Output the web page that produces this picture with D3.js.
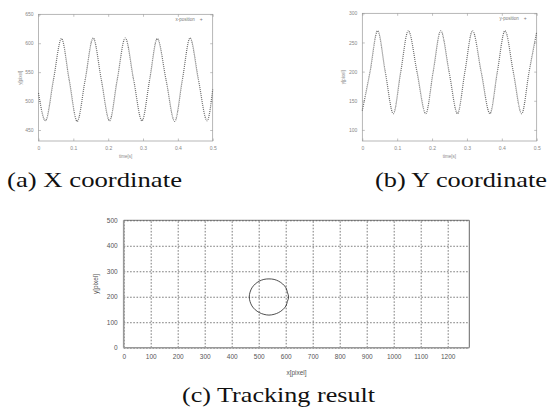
<!DOCTYPE html>
<html lang="en">
<head>
<meta charset="UTF-8">
<title>Tracking result</title>
<script src="https://d3js.org/d3.v7.min.js"></script>
<style>
  body { margin: 0; background: #fff; }
  svg { display: block; }
  text { font-family: "Liberation Sans", Arial, sans-serif; }
  text.caption { font-family: "Liberation Serif", "Times New Roman", serif; font-size: 21px; fill: #111; }
</style>
</head>
<body>
<svg id="chart" width="549" height="409"></svg>
<script>
// (a) x position over time, read at extrema and mid crossings
var timeX = [0, 0.020, 0.043, 0.066, 0.088, 0.111, 0.134, 0.157, 0.180, 0.204, 0.226, 0.249,
             0.273, 0.297, 0.319, 0.341, 0.366, 0.391, 0.413, 0.435, 0.459, 0.484, 0.5];
var xPosition = [514, 466, 537, 608, 537, 465, 537, 609, 538, 466, 537, 609,
                 537, 466, 537, 608, 537, 465, 537, 609, 537, 466, 520];

// (b) y position over time
var timeY = [0, 0.022, 0.044, 0.066, 0.089, 0.110, 0.132, 0.157, 0.182, 0.203, 0.225, 0.249,
             0.273, 0.294, 0.316, 0.341, 0.366, 0.387, 0.409, 0.433, 0.457, 0.478, 0.5];
var yPosition = [133, 199, 270, 199, 128, 199, 270, 199, 128, 199, 270, 199,
                 128, 199, 270, 199, 128, 199, 270, 199, 128, 199, 268];

// (c) tracked path in the image plane
var trackX = [611, 606, 601, 589, 574, 557, 538, 519, 502, 487, 475, 468, 465, 468, 475, 487, 502, 519, 538, 557, 574, 589, 601, 606];
var trackY = [199, 218, 235, 250, 261, 268, 270, 268, 261, 250, 235, 218, 199, 181, 164, 149, 138, 131, 128, 131, 138, 149, 164, 181];

var timeTicks = [0, 0.1, 0.2, 0.3, 0.4, 0.5];
var xPosTicks = [450, 500, 550, 600, 650];
var yPosTicks = [100, 150, 200, 250, 300];
var pixelXTicks = [0, 100, 200, 300, 400, 500, 600, 700, 800, 900, 1000, 1100, 1200];
var pixelYTicks = [0, 100, 200, 300, 400, 500];

var svg = d3.select("#chart");
svg.append("rect").attr("width", 549).attr("height", 409).attr("fill", "#fff");

function timePanel(opts) {
    var x = d3.scaleLinear().domain([0, 0.5]).range([opts.left, opts.right]);
    var y = d3.scaleLinear().domain(opts.yDomain).range([opts.bottom, opts.top]);
    var g = svg.append("g");

    function styleAxis(a) {
        a.select(".domain").remove();
        a.selectAll(".tick line").attr("stroke", "#999").attr("stroke-width", 0.6);
        a.selectAll(".tick text").attr("fill", "#888").style("font-size", "5px");
    }

    g.append("g").attr("transform", "translate(0," + opts.bottom + ")")
        .call(d3.axisBottom(x).tickValues(timeTicks).tickSize(-2.5).tickPadding(5).tickFormat(d3.format("")))
        .call(styleAxis);
    g.append("g").attr("transform", "translate(0," + opts.top + ")")
        .call(d3.axisTop(x).tickValues(timeTicks).tickSize(-2.5).tickFormat(""))
        .call(styleAxis);
    g.append("g").attr("transform", "translate(" + opts.left + ",0)")
        .call(d3.axisLeft(y).tickValues(opts.yTicks).tickSize(-2.5).tickPadding(5))
        .call(styleAxis);
    g.append("g").attr("transform", "translate(" + opts.right + ",0)")
        .call(d3.axisRight(y).tickValues(opts.yTicks).tickSize(-2.5).tickFormat(""))
        .call(styleAxis);

    g.append("rect")
        .attr("x", opts.left).attr("y", opts.top)
        .attr("width", opts.right - opts.left).attr("height", opts.bottom - opts.top)
        .attr("fill", "none").attr("stroke", "#999").attr("stroke-width", 0.7);

    var line = d3.line()
        .x(function(d) { return x(d[0]); })
        .y(function(d) { return y(d[1]); })
        .curve(d3.curveMonotoneX);

    var pts = opts.t.map(function(t, i) { return [t, opts.v[i]]; });
    g.append("path").datum(pts)
        .attr("fill", "none")
        .attr("stroke", "#6a6a6a")
        .attr("stroke-width", 1.2)
        .attr("stroke-dasharray", "1,1")
        .attr("d", line);

    g.append("text").attr("x", opts.right - 18).attr("y", opts.top + 6.5)
        .attr("text-anchor", "end").attr("fill", "#777").style("font-size", "4.5px")
        .text(opts.legend);
    g.append("text").attr("x", opts.right - 11.5).attr("y", opts.top + 6.5)
        .attr("text-anchor", "middle").attr("fill", "#777").style("font-size", "5px")
        .text("+");

    g.append("text").attr("x", (opts.left + opts.right) / 2).attr("y", opts.bottom + 17)
        .attr("text-anchor", "middle").attr("fill", "#888").style("font-size", "4.5px")
        .text("time[s]");
    g.append("text")
        .attr("transform", "translate(" + (opts.left - 17) + "," + ((opts.top + opts.bottom) / 2) + ") rotate(-90)")
        .attr("text-anchor", "middle").attr("fill", "#888").style("font-size", "4.5px")
        .text("y[pixel]");
}

timePanel({ left: 38.5, right: 212.7, top: 14.3, bottom: 141, yDomain: [431, 650],
            yTicks: xPosTicks, t: timeX, v: xPosition, legend: "x-position" });
timePanel({ left: 362.3, right: 536.7, top: 13.3, bottom: 141, yDomain: [81, 300],
            yTicks: yPosTicks, t: timeY, v: yPosition, legend: "y-position" });

// panel (c)
var cl = 123.7, cr = 469.3, ct = 220.3, cb = 347.7;
var px = d3.scaleLinear().domain([0, 1280]).range([cl, cr]);
var py = d3.scaleLinear().domain([0, 500]).range([cb, ct]);
var gc = svg.append("g");

function gridAxis(a) {
    a.select(".domain").remove();
    a.selectAll(".tick line").attr("stroke", "#444").attr("stroke-width", 0.7).attr("stroke-dasharray", "1.6,1.6");
    a.selectAll(".tick text").attr("fill", "#555").style("font-size", "6.5px");
}

gc.append("g").attr("transform", "translate(0," + cb + ")")
    .call(d3.axisBottom(px).tickValues(pixelXTicks).tickSize(-(cb - ct)).tickPadding(7).tickFormat(d3.format("d")))
    .call(gridAxis);
gc.append("g").attr("transform", "translate(" + cl + ",0)")
    .call(d3.axisLeft(py).tickValues(pixelYTicks).tickSize(-(cr - cl)).tickPadding(6).tickFormat(d3.format("d")))
    .call(gridAxis);

// frame: top/right dark, left/bottom lighter and thicker
gc.append("line").attr("x1", cl).attr("x2", cr).attr("y1", ct).attr("y2", ct).attr("stroke", "#555").attr("stroke-width", 0.8);
gc.append("line").attr("x1", cr).attr("x2", cr).attr("y1", ct).attr("y2", cb).attr("stroke", "#555").attr("stroke-width", 0.9);
gc.append("line").attr("x1", cl).attr("x2", cl).attr("y1", ct).attr("y2", cb).attr("stroke", "#999").attr("stroke-width", 1.6);
gc.append("line").attr("x1", cl).attr("x2", cr).attr("y1", cb).attr("y2", cb).attr("stroke", "#999").attr("stroke-width", 1.6);

var track = trackX.map(function(v, i) { return [v, trackY[i]]; });
gc.append("path").datum(track)
    .attr("fill", "none").attr("stroke", "#222").attr("stroke-width", 0.8)
    .attr("d", d3.line()
        .x(function(d) { return px(d[0]); })
        .y(function(d) { return py(d[1]); })
        .curve(d3.curveCatmullRomClosed));

gc.append("text").attr("x", (cl + cr) / 2).attr("y", 375)
    .attr("text-anchor", "middle").attr("fill", "#555").style("font-size", "6.5px")
    .text("x[pixel]");
gc.append("text")
    .attr("transform", "translate(98," + ((ct + cb) / 2) + ") rotate(-90)")
    .attr("text-anchor", "middle").attr("fill", "#555").style("font-size", "6.5px")
    .text("y[pixel]");

// captions
svg.append("text").attr("class", "caption").attr("x", 7).attr("y", 187)
    .attr("textLength", 175).attr("lengthAdjust", "spacingAndGlyphs").text("(a) X coordinate");
svg.append("text").attr("class", "caption").attr("x", 375).attr("y", 187)
    .attr("textLength", 172).attr("lengthAdjust", "spacingAndGlyphs").text("(b) Y coordinate");
svg.append("text").attr("class", "caption").attr("x", 182).attr("y", 402)
    .attr("textLength", 193).attr("lengthAdjust", "spacingAndGlyphs").text("(c) Tracking result");
</script>
</body>
</html>
